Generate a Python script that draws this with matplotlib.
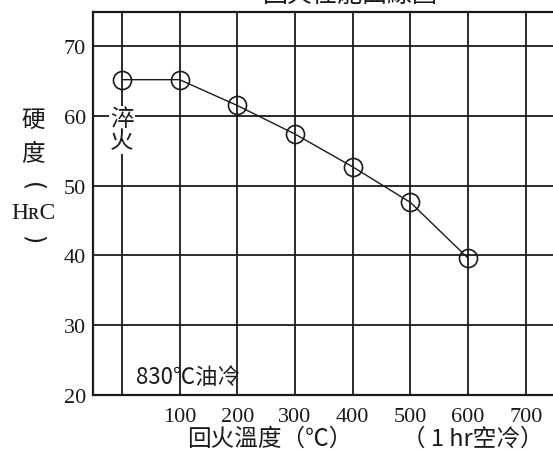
import matplotlib.pyplot as plt

# tempering curve, HRC vs tempering temperature
temps = [0, 100, 200, 300, 400, 500, 600]
hardness = [65.2, 65.2, 61.5, 57.4, 52.7, 47.6, 39.6]
xticks = [100, 200, 300, 400, 500, 600, 700]
yticks = [20, 30, 40, 50, 60, 70]

cjk = ['Noto Sans CJK TC', 'DejaVu Sans']
num = 'Liberation Serif'
ink = '#1a1a1a'

fig = plt.figure(figsize=(5.53, 4.52), dpi=100)
ax = fig.add_axes([93 / 553, 56 / 452, 460 / 553, 383 / 452])
ax.set_xlim(-50, 747)
ax.set_ylim(20, 74.9)

# grid: quench line at x=0 plus every 100 C
for x in [0] + xticks:
    ax.axvline(x, color=ink, lw=1.3, zorder=1)
for y in yticks[1:]:
    ax.axhline(y, color=ink, lw=1.3, zorder=1)

ax.plot(temps, hardness, color=ink, lw=1.0, marker='o', ms=13,
        mfc='none', mec=ink, mew=1.2, zorder=3)

for s in ['left', 'bottom', 'top']:
    ax.spines[s].set_linewidth(1.6)
    ax.spines[s].set_color(ink)
ax.spines['right'].set_visible(False)

ax.set_xticks(xticks)
ax.set_xticklabels([str(t) for t in xticks], family=num, fontsize=16, color=ink)
ax.set_yticks(yticks)
ax.set_yticklabels([str(t) for t in yticks], family=num, fontsize=16, color=ink)
ax.tick_params(length=0)
ax.tick_params(axis='x', pad=9)
ax.tick_params(axis='y', pad=5)

# labels inside the grid
ax.text(0, 58.0, '淬\n火', family=cjk, fontsize=17, ha='center', va='center',
        color=ink, linespacing=0.95,
        bbox=dict(fc='white', ec='none', pad=1), zorder=4)
ax.text(25, 22.6, '830℃油冷', family=cjk, fontsize=16, ha='left', va='center', color=ink)

# vertical y label
fig.text(33 / 553, 1 - 120 / 452, '硬', family=cjk, fontsize=17, ha='center', va='center', color=ink)
fig.text(33 / 553, 1 - 155 / 452, '度', family=cjk, fontsize=17, ha='center', va='center', color=ink)
fig.text(33 / 553, 1 - 187 / 452, '(', family='DejaVu Sans', fontsize=17, rotation=-90,
         ha='center', va='center', color=ink)
fig.text(33 / 553, 1 - 214 / 452, 'HʀC', family=num, fontsize=17, ha='center', va='center', color=ink)
fig.text(33 / 553, 1 - 240 / 452, ')', family='DejaVu Sans', fontsize=17, rotation=-90,
         ha='center', va='center', color=ink)

fig.text(270 / 553, 1 - 439 / 452, '回火溫度（℃）', family=cjk, fontsize=17,
         ha='center', va='center', color=ink)
fig.text(473 / 553, 1 - 439 / 452, '（ 1 hr空冷）', family=cjk, fontsize=17,
         ha='center', va='center', color=ink)

# title, mostly above the top edge as in the scan
fig.text(350 / 553, 1 - 8 / 452, '回火性能曲線圖', family=cjk, fontsize=18,
         ha='center', va='bottom', color=ink)

fig.savefig('out.png', dpi=100)
